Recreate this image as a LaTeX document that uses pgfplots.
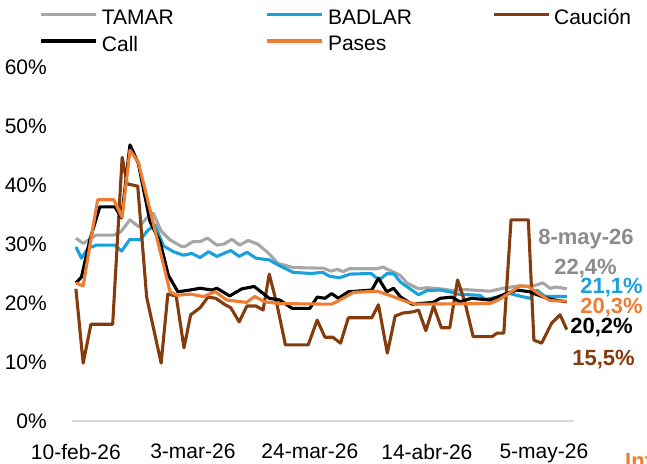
\documentclass[border=0pt]{standalone}
\usepackage{fontspec}
\setmainfont{Liberation Sans}
\usepackage{pgfplots}
\pgfplotsset{compat=1.18}
\definecolor{tamar}{HTML}{A6A6A6}
\definecolor{badlar}{HTML}{1AA1DC}
\definecolor{caucion}{HTML}{843C0C}
\definecolor{pases}{HTML}{ED7D31}
\definecolor{anngray}{HTML}{8C8C8C}
\definecolor{axgray}{HTML}{D9D9D9}
\begin{document}
\begin{tikzpicture}
\path[use as bounding box] (0,0) rectangle (647pt,463pt);
\begin{axis}[
  at={(72pt,42pt)}, anchor=south west,
  scale only axis, width=502pt, height=354pt,
  xmin=-0.7, xmax=89.4, ymin=0, ymax=60,
  axis x line=bottom, axis y line=left,
  x axis line style={draw=axgray, line width=1.3pt, -},
  y axis line style={draw=none},
  xtick={0,21,42,63,84},
  xticklabels={10-feb-26,3-mar-26,24-mar-26,14-abr-26,5-may-26},
  ytick={0,10,20,30,40,50,60},
  yticklabels={0\%,10\%,20\%,30\%,40\%,50\%,60\%},
  major tick length=0pt, tick style={draw=none},
  ticklabel style={font=\fontsize{21}{25}\selectfont, inner sep=0pt},
  yticklabel style={anchor=east, xshift=-25pt},
  xticklabel style={anchor=north, yshift=-23pt},
  clip=false,
  legend columns=3,
  legend cell align=left,
  legend style={at={(-0.0645,1.164)}, anchor=north west, draw=none, fill=none,
    font=\fontsize{21}{25}\selectfont, inner sep=0pt, row sep=10pt,
    nodes={inner sep=0pt},
    /tikz/every odd column/.append style={column sep=4pt}},
  legend image code/.code={\draw[#1] (0pt,0.35em) -- (55pt,0.35em);},
  every axis plot/.append style={line width=3.1pt, line join=round},
]
\addplot[tamar] coordinates {(0,31.0)(1.3,30.1)(3.6,31.5)(6.8,31.5)(8.1,32.1)(9.7,34.1)(11.3,32.9)(13.0,34.7)(13.9,35.2)(15.3,32.2)(16.9,30.7)(18.9,29.6)(19.6,29.6)(21.0,30.4)(22.3,30.4)(23.6,31.0)(25.3,29.8)(26.6,30.0)(28.0,30.8)(29.4,29.8)(30.9,30.6)(32.6,30.0)(34.4,28.6)(36.3,26.7)(39.0,26.0)(44.4,25.9)(45.8,25.4)(46.9,25.7)(48.0,25.3)(49.0,25.8)(54.0,25.8)(55.1,26.1)(56.4,25.5)(58.2,24.7)(59.4,23.4)(61.5,22.4)(63.0,22.6)(65.4,22.4)(67.7,22.1)(69.5,22.3)(74.3,22.0)(76.7,22.5)(79.4,22.9)(81.8,22.8)(83.8,23.4)(85.1,22.5)(86.3,22.7)(88.1,22.4)};
\addlegendentry{\makebox[164pt][l]{TAMAR}}
\addplot[badlar] coordinates {(0,29.5)(1.0,27.6)(2.2,29.3)(3.7,29.8)(7.0,29.8)(8.2,28.8)(9.7,30.8)(11.5,30.7)(13.0,32.4)(14.2,33.2)(15.7,29.7)(17.5,28.7)(19.3,28.1)(20.8,28.4)(22.3,27.7)(23.8,28.7)(25.3,27.9)(27.8,28.9)(29.3,27.9)(30.7,28.6)(32.3,27.6)(34.7,27.3)(36.6,26.3)(39.0,25.2)(42.2,25.0)(44.3,25.2)(45.6,24.5)(47.4,24.3)(49.2,24.9)(53.0,25.0)(54.4,23.9)(55.9,25.0)(57.1,24.9)(58.3,23.5)(61.5,21.4)(63.0,22.1)(65.4,22.2)(67.1,21.9)(68.5,21.5)(72.5,21.3)(73.5,20.6)(76.1,21.1)(77.9,21.6)(80.0,21.1)(81.5,20.8)(82.7,22.2)(84.2,21.1)(86.3,21.1)(88.1,21.1)};
\addlegendentry{\makebox[164pt][l]{BADLAR}}
\addplot[caucion] coordinates {(0,22.4)(1.3,9.8)(2.7,16.4)(6.6,16.4)(8.3,44.7)(9.2,40.2)(11.1,39.8)(12.7,21.0)(15.3,9.8)(16.5,21.5)(18.0,21.2)(19.4,12.4)(20.6,18.0)(22.3,19.2)(23.7,21.0)(25.1,20.8)(26.8,19.7)(27.8,19.2)(29.3,16.8)(30.7,19.5)(32.3,19.5)(33.6,18.8)(34.7,24.9)(36.1,19.7)(37.6,12.9)(41.7,12.9)(43.3,17.1)(44.7,14.2)(46.1,14.2)(47.5,13.2)(48.9,17.5)(53.1,17.5)(54.3,19.7)(55.9,11.5)(57.3,17.8)(58.7,18.3)(60.5,18.5)(61.5,18.8)(62.8,15.3)(64.2,19.5)(65.6,15.8)(67.1,15.8)(68.5,23.9)(69.8,20.2)(71.3,14.3)(74.7,14.3)(75.6,14.9)(76.8,14.9)(78.1,34.1)(81.2,34.1)(82.2,13.7)(83.6,13.2)(85.4,16.6)(86.9,18.0)(88.1,15.5)};
\addlegendentry{Caución}
\addplot[black] coordinates {(0,23.4)(1.0,24.4)(2.5,30.7)(4.3,36.3)(7.0,36.3)(8.2,34.4)(9.7,46.8)(11.2,43.7)(13.3,33.8)(15.1,30.4)(16.6,24.7)(18.3,21.9)(20.5,22.2)(22.3,22.5)(24.4,22.2)(25.3,22.5)(27.6,21.2)(29.8,22.4)(32.0,22.8)(34.7,20.8)(36.6,20.5)(38.8,19.1)(42.0,19.1)(43.3,21.0)(44.7,20.8)(45.9,21.6)(47.1,20.8)(48.9,21.9)(53.1,22.2)(54.3,24.2)(55.8,21.9)(57.0,22.5)(58.3,21.0)(60.3,19.8)(64.1,20.1)(65.4,20.8)(67.5,21.0)(68.9,20.2)(71.0,20.8)(74.3,20.5)(76.7,21.4)(79.1,22.2)(81.5,21.9)(83.6,21.1)(85.4,20.6)(88.1,20.2)};
\addlegendentry{\makebox[164pt][l]{Call}}
\addplot[pases] coordinates {(0,23.4)(1.3,22.9)(3.9,37.5)(6.8,37.5)(8.3,34.5)(9.7,45.9)(11.2,43.9)(16.9,21.9)(18.1,21.3)(20.5,21.5)(22.9,21.1)(25.0,21.9)(27.1,20.5)(30.6,20.1)(32.1,21.1)(33.9,20.2)(36.6,19.9)(45.9,19.8)(47.4,20.5)(49.8,21.8)(54.1,22.0)(56.6,21.2)(59.4,20.2)(61.2,19.8)(74.3,19.9)(75.8,20.5)(77.3,21.4)(79.7,22.9)(81.2,22.8)(83.3,21.4)(85.1,20.4)(88.1,20.3)};
\addlegendentry{\makebox[164pt][l]{Pases}}
\end{axis}
\begin{scope}[every node/.style={font=\bfseries\fontsize{22}{26}\selectfont, anchor=base, inner sep=0pt}]
\node[text=anngray] at (586pt,218pt) {8-may-26};
\node[text=anngray] at (585.5pt,188pt) {22,4\%};
\node[text=badlar] at (611.5pt,169.5pt) {21,1\%};
\node[text=pases] at (611.5pt,149.5pt) {20,3\%};
\node[text=black] at (601.5pt,129pt) {20,2\%};
\node[text=caucion] at (603.5pt,97pt) {15,5\%};
\node[text=pases, anchor=base west] at (625pt,-5.5pt) {Inf};
\end{scope}
\end{tikzpicture}
\end{document}
